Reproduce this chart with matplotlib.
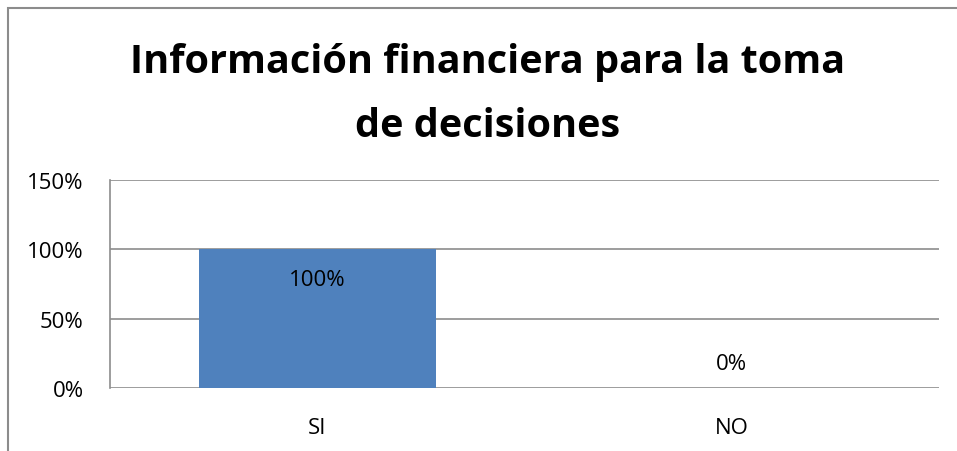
import matplotlib.pyplot as plt
from matplotlib.patches import Rectangle

categories = ['SI', 'NO']
values = [1.0, 0.0]
labels = ['100%', '0%']
yticks = [0, 0.5, 1.0, 1.5]
ytick_labels = ['0%', '50%', '100%', '150%']

plt.rcParams['font.family'] = ['Open Sans', 'DejaVu Sans']

W, H = 957, 452
fig = plt.figure(figsize=(W / 100, H / 100), dpi=100)

# outer chart frame (cut off at right and bottom like the source)
fig.patches.append(Rectangle((8 / W, -0.1), 1.2, 1 - 9 / H + 0.1,
                             transform=fig.transFigure, fill=False,
                             edgecolor='#8c8c8c', linewidth=1.5))

fig.text(488 / W, 1 - 62 / H, 'Información financiera para la toma',
         ha='center', va='center', fontsize=28.5, fontweight='bold')
fig.text(488 / W, 1 - 127 / H, 'de decisiones',
         ha='center', va='center', fontsize=28.5, fontweight='bold')

ax = fig.add_axes([110 / W, (H - 389) / H, 829 / W, 208 / H])
x = range(len(categories))
ax.bar(x, values, width=0.572, color='#4f81bd', zorder=2)
ax.set_xlim(-0.5, 1.5)
ax.set_ylim(0, 1.5)
ax.set_yticks(yticks)
ax.set_yticklabels(ytick_labels, fontsize=16)
ax.set_xticks(list(x))
ax.set_xticklabels(categories, fontsize=16)
ax.tick_params(length=0, pad=19, axis='y')
ax.tick_params(length=0, pad=21, axis='x')
ax.grid(axis='y', color='#8c8c8c', linewidth=1.2, zorder=0)
for s in ['top', 'right', 'bottom']:
    ax.spines[s].set_visible(False)
ax.spines['left'].set_color('#8c8c8c')
ax.spines['left'].set_linewidth(1.2)

for i, (v, lab) in enumerate(zip(values, labels)):
    off = -30 if v > 0 else 24
    ax.annotate(lab, (i, v), xytext=(0, off), textcoords='offset pixels',
                ha='center', va='center', fontsize=16)

fig.savefig('out.png', dpi=100)
